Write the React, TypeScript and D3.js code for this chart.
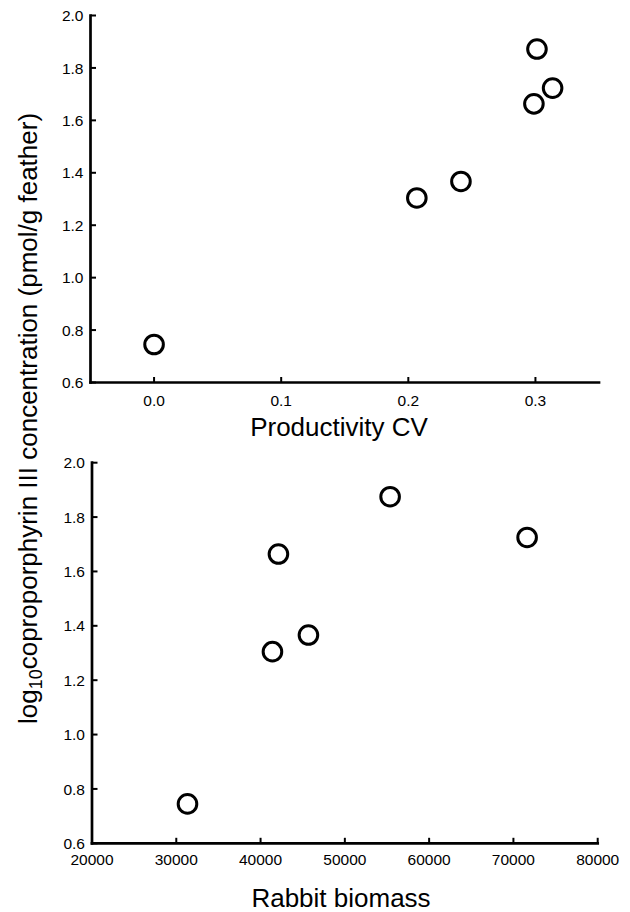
import React from "react";
import * as d3 from "d3";

// ---- data ----
const cvValues = [0.0, 0.2067, 0.2414, 0.2988, 0.3012, 0.3135];
const concTop = [0.745, 1.304, 1.367, 1.663, 1.872, 1.723];

const biomassValues = [31330, 41410, 42120, 45680, 55370, 71625];
const concBottom = [0.745, 1.305, 1.664, 1.366, 1.875, 1.725];

const yTicks = [0.6, 0.8, 1.0, 1.2, 1.4, 1.6, 1.8, 2.0];
const cvTicks = [0.0, 0.1, 0.2, 0.3];
const biomassTicks = [20000, 30000, 40000, 50000, 60000, 70000, 80000];

const FONT = "'Liberation Sans', Arial, Helvetica, sans-serif";

type PanelProps = {
  xs: number[];
  ys: number[];
  xDomain: [number, number];
  xRange: [number, number];
  yRange: [number, number];
  xTicks: number[];
  xFmt: (v: number) => string;
  xLabelOffset: number;
  yLabelRight: number;
  title: string;
  titleX: number;
  titleY: number;
};

function Panel(p: PanelProps) {
  const x = d3.scaleLinear().domain(p.xDomain).range(p.xRange);
  const y = d3.scaleLinear().domain([0.6, 2.0]).range(p.yRange);
  const x0 = p.xRange[0];
  const yb = p.yRange[0];
  const tickLen = 5.5;
  return (
    <g>
      {/* axes lines */}
      <line x1={x0} x2={x0} y1={y(2.0)} y2={yb} stroke="#000" strokeWidth={2.7} strokeLinecap="square" />
      <line x1={x0} x2={p.xRange[1]} y1={yb} y2={yb} stroke="#000" strokeWidth={2.7} strokeLinecap="square" />
      {/* y ticks */}
      {yTicks.map((t) => (
        <g key={"y" + t}>
          <line x1={x0} x2={x0 + tickLen} y1={y(t)} y2={y(t)} stroke="#000" strokeWidth={2} />
          <text
            x={p.yLabelRight}
            y={y(t)}
            dy="0.36em"
            textAnchor="end"
            fontSize={15.5}
            fontFamily={FONT}
            fill="#000"
          >
            {d3.format(".1f")(t)}
          </text>
        </g>
      ))}
      {/* x ticks */}
      {p.xTicks.map((t) => (
        <g key={"x" + t}>
          <line x1={x(t)} x2={x(t)} y1={yb} y2={yb - tickLen} stroke="#000" strokeWidth={2} />
          <text
            x={x(t)}
            y={yb + p.xLabelOffset}
            dy="0.36em"
            textAnchor="middle"
            fontSize={15.5}
            fontFamily={FONT}
            fill="#000"
          >
            {p.xFmt(t)}
          </text>
        </g>
      ))}
      {/* points */}
      {p.xs.map((v, i) => (
        <circle key={"c" + i} cx={x(v)} cy={y(p.ys[i])} r={9.3} fill="none" stroke="#000" strokeWidth={3} />
      ))}
      <text x={p.titleX} y={p.titleY} textAnchor="middle" fontSize={26} fontFamily={FONT} fill="#000">
        {p.title}
      </text>
    </g>
  );
}

export default function App() {
  return (
    <svg
      width={630}
      height={912}
      style={{ position: "absolute", left: 0, top: 0, background: "#fff" }}
    >
      <rect x={0} y={0} width={630} height={912} fill="#fff" />
      <Panel
        xs={cvValues}
        ys={concTop}
        xDomain={[-0.05, 0.35]}
        xRange={[90.5, 599]}
        yRange={[382.5, 15.5]}
        xTicks={cvTicks}
        xFmt={d3.format(".1f")}
        xLabelOffset={18}
        yLabelRight={83.5}
        title="Productivity CV"
        titleX={339}
        titleY={435.5}
      />
      <Panel
        xs={biomassValues}
        ys={concBottom}
        xDomain={[20000, 80000]}
        xRange={[92, 597.7]}
        yRange={[843.3, 462.7]}
        xTicks={biomassTicks}
        xFmt={(v: number) => String(v)}
        xLabelOffset={16}
        yLabelRight={85}
        title="Rabbit biomass"
        titleX={341}
        titleY={907}
      />
      <text
        transform="translate(37,418.5) rotate(-90)"
        textAnchor="middle"
        fontSize={26}
        fontFamily={FONT}
        fill="#000"
      >
        log
        <tspan fontSize={18} dy={5}>10</tspan>
        <tspan dy={-5}>coproporphyrin III concentration (pmol/g feather)</tspan>
      </text>
    </svg>
  );
}
